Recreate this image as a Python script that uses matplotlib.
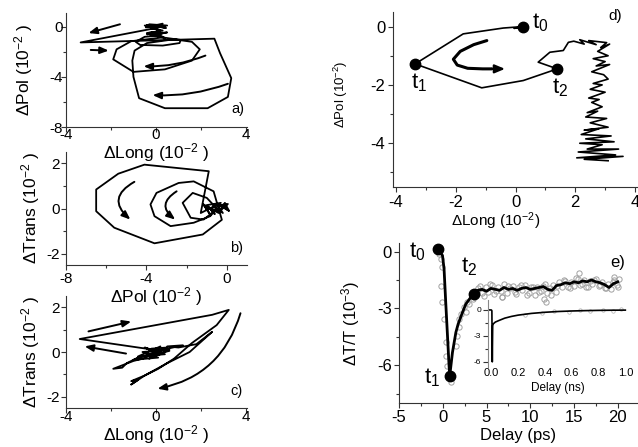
import matplotlib
matplotlib.use("Agg")
import matplotlib.pyplot as plt
from matplotlib.ticker import MultipleLocator, FormatStrFormatter

plt.rcParams["font.family"] = ["Liberation Sans", "DejaVu Sans"]
plt.rcParams["mathtext.default"] = "regular"
plt.rcParams["axes.unicode_minus"] = False

# -------------------------
# a) dLong vs dPol
# -------------------------
a_long = [0.1, -0.4, 0.45, -0.3, 0.5, -0.45, 0.3, -0.2, 0.4, -0.5, 0.2, -0.35, 0.5, -0.1, 0.35, -0.4, 0.15, 0.0,
          -3.35, 2.6, 2.85, 3.35, 3.2, 2.3, 0.4, -0.75, -1.0, -1.05, -0.95, -0.4,
          0.8, 1.6, 1.95, 1.6, 0.4, -1.0, -1.9, -1.75, -1.1, 0.3, 1.1, 1.05, 0.3, -0.7, -0.9, -0.5,
          0.2, 0.4, -0.3, 0.1, -0.4, 0.3, -0.2, 0.1]
a_pol = [0.0, 0.15, -0.1, 0.2, 0.1, -0.05, 0.25, -0.15, 0.05, 0.1, -0.3, -0.55, -0.45, -0.65, -0.5, -0.6, -0.4, -0.1,
         -1.25, -0.95, -2.1, -4.1, -5.6, -6.5, -6.5, -5.7, -4.0, -2.7, -1.9, -1.3,
         -1.0, -1.2, -1.8, -2.7, -3.4, -3.6, -2.6, -1.8, -1.15, -0.85, -1.05, -1.3, -1.5, -1.45, -1.2, -0.8,
         -0.7, -0.9, -0.6, -0.4, -0.5, -0.3, -0.1, 0.0]
# arrows: (x_start, y_start, x_end, y_end, curvature)
a_arrows = [(-1.6, 0.2, -3.0, -0.5, 0.0),
            (-2.9, -1.85, -2.1, -1.9, 0.0),
            (2.2, -2.3, -0.55, -3.15, -0.1),
            (3.2, -4.55, -0.15, -5.45, -0.1)]

# -------------------------
# b) dPol vs dTrans
# -------------------------
b_pol = [0.0, -0.3, 0.1, -0.5, -0.2, -0.7, 0.05, -0.4, -0.9, -0.6, -1.0, -0.3, -1.3,
         -0.9, -4.1, -5.4, -6.5, -6.5, -5.6, -3.6, -1.2, -0.25,
         -0.66, -1.65, -2.4, -3.5, -3.8, -3.6, -2.8, -1.65, -0.83, -0.5,
         -1.0, -1.7, -2.2, -1.8, -1.16, -0.6, -1.2, -0.8, -1.1, -0.4, -0.1, 0.1, -0.2, 0.0]
b_trans = [0.0, 0.15, -0.1, 0.2, -0.2, 0.1, 0.2, -0.15, 0.05, -0.25, 0.15, 0.25, -0.2,
           1.65, 1.94, 1.54, 0.84, -0.12, -0.85, -1.54, -1.15, -0.5,
           0.76, 1.2, 1.13, 0.69, 0.18, -0.34, -0.78, -0.63, -0.34, 0.0,
           0.47, 0.69, 0.25, -0.41, -0.49, -0.1, 0.2, -0.3, 0.1, -0.2, 0.25, -0.1, 0.15, 0.0]
b_arrows = [(-4.6, 1.18, -4.8, -0.49, 0.7),
            (-2.5, 0.76, -2.57, -0.49, 0.7)]

# -------------------------
# c) dLong vs dTrans
# -------------------------
c_long = [0.0, -0.5, 0.4, -0.8, 0.2, -0.3, 0.6, -0.6, 0.1, -1.0, 0.5, -0.2, -0.1,
          -3.39, 2.5, 3.24, 2.7, 1.6, 0.8, 0.1, -0.5, -1.1, -0.8, -1.1, -0.5, 0.5, 1.5, 2.5, 1.8, 1.0, 0.5, 1.2, 0.3,
          -0.6, -1.0, -1.9, -1.5, -1.3, -0.7, 0.2, -0.4, 0.6, -0.2, 0.3, 0.0]
c_trans = [0.0, 0.2, -0.1, -0.2, 0.25, -0.3, 0.1, 0.0, -0.25, -0.35, 0.2, 0.15, 0.1,
           0.58, 1.66, 1.88, 1.2, 0.4, -0.3, -0.75, -1.05, -1.45, -1.25, -1.3, -1.05, -0.5, 0.0, 0.9, 0.35, 0.2, 0.25, 0.3, 0.1,
           -0.3, -0.4, -0.75, -0.7, -0.5, -0.2, -0.1, 0.15, 0.05, -0.15, 0.1, 0.0]
c_arrows = [(-3.0, 0.92, -1.1, 1.36, 0.0),
            (-1.33, -0.07, -3.17, 0.25, 0.0),
            (3.76, 1.73, 0.07, -1.64, -0.3)]

# -------------------------
# d) dLong vs dPol, longer delays
# -------------------------
d_long_path = [0.35, 0.1, 0.3, -0.05, 0.24, -0.41, -1.75, -3.36, -1.13, 0.26, 1.4, 0.76, 1.15, 1.6, 1.77]
d_pol_path = [0.02, -0.04, -0.02, -0.06, 0.0, -0.05, -0.25, -1.28, -2.1, -1.85, -1.45, -1.22, -0.88, -0.82, -0.54]
d_long_noise = [1.95, 2.3, 2.15, 2.7, 2.45, 3.05, 2.85, 3.15, 2.75, 3.1, 2.6, 3.0, 2.7, 3.15, 2.55, 2.95,
                3.1, 2.6, 2.9, 2.5, 3.0, 2.45, 2.8, 2.55, 2.9, 2.4, 2.75, 2.35, 3.05, 2.5, 3.1, 2.3, 2.8,
                2.2, 3.2, 2.35, 3.3, 2.15, 2.9, 2.4, 3.45, 2.1, 3.35, 2.05, 3.6, 2.3, 3.1]
d_pol_noise = [-0.5, -0.6, -0.45, -0.62, -0.48, -0.55, -0.72, -0.6, -0.85, -1.0, -1.1, -1.2, -1.35, -1.3, -1.55, -1.65,
               -1.8, -1.95, -2.0, -2.15, -2.25, -2.45, -2.5, -2.6, -2.75, -2.95, -2.9, -3.1, -3.15, -3.3, -3.45, -3.55, -3.5,
               -3.7, -3.75, -3.85, -3.95, -4.0, -4.05, -4.2, -4.2, -4.3, -4.4, -4.5, -4.45, -4.55, -4.6]
d_mark_long = [0.24, -3.36, 1.4]
d_mark_pol = [0.0, -1.28, -1.45]
d_mark_text = [(0.55, -0.07, "t$_0$"), (-3.5, -2.13, "t$_1$"), (1.22, -2.3, "t$_2$")]
d_turn_long = [-0.96, -1.4, -1.85, -2.08, -1.95, -1.6, -1.1, -0.8]
d_turn_pol = [-0.48, -0.62, -0.85, -1.12, -1.32, -1.43, -1.45, -1.45]
d_turn_tip = (-0.35, -1.45)

# -------------------------
# e) transmission transient
# -------------------------
e_delay = [-0.6, -0.03, 0.15, 0.34, 0.54, 0.72, 0.8, 1.11, 1.5, 1.76, 2.26, 2.64, 3.2, 3.6,
           4.0, 4.5, 5.0, 5.5, 6.0, 6.5, 7.0, 7.5, 8.0, 8.5, 9.0, 9.5, 10.0, 10.5, 11.0, 11.5, 12.0,
           12.5, 13.0, 13.5, 14.0, 14.5, 15.0, 15.5, 16.0, 16.5, 17.0, 17.5, 18.0, 18.5, 19.0, 19.5, 20.0]
e_dtt = [0.14, -0.21, -0.92, -2.68, -4.44, -6.03, -6.56, -5.33, -4.27, -3.83, -3.21, -2.77, -2.42, -2.24,
         -2.05, -2.0, -2.1, -1.95, -2.0, -2.05, -1.9, -2.0, -1.95, -2.05, -1.95, -1.9, -2.0, -1.95, -1.9, -1.85, -2.0,
         -2.05, -1.8, -1.75, -1.65, -1.7, -1.6, -1.65, -1.55, -1.6, -1.5, -1.6, -1.65, -1.75, -1.9, -1.7, -1.6]
e_raw_t = [-0.42, -0.23, -0.04, -0.23, -0.04, 0.15, 0.34, 0.34, 0.54, 0.91, 1.1, 1.49, 1.68, 1.87, 1.87, 2.06,
           2.43, 2.63, 2.82, 3.0, 3.4, 3.58,
           3.8, 4.2, 4.5, 4.9, 5.2, 5.6, 5.9, 6.3, 6.6, 7.0, 7.3, 7.7, 8.0, 8.4, 8.7, 9.1, 9.4, 9.8, 10.1,
           10.5, 10.8, 11.2, 11.5, 11.9, 12.2, 12.6, 12.9, 13.3, 13.6, 14.0, 14.3, 14.7, 15.0, 15.4, 15.7,
           16.1, 16.4, 16.8, 17.1, 17.5, 17.8, 18.2, 18.5, 18.9, 19.2, 19.6, 19.9, 20.1,
           4.0, 4.7, 5.4, 6.1, 6.8, 7.5, 8.2, 8.9, 9.6, 10.3, 11.0, 11.7, 12.4, 13.1, 13.8, 14.5, 15.2,
           15.9, 16.6, 17.3, 18.0, 18.7, 19.4, 20.0,
           6.8, 11.6, 11.8, 15.6, 19.6]
e_raw_dtt = [-0.12, -0.39, -0.83, -1.8, -2.68, -3.56, -4.8, -5.5, -6.03, -6.9, -6.6, -4.97, -4.44, -4.0, -3.56, -3.3,
             -2.95, -3.21, -2.68, -2.77, -2.5, -2.42,
             -2.3, -1.8, -2.2, -1.85, -2.15, -1.75, -2.25, -1.9, -2.1, -1.7, -2.2, -1.95, -1.8, -2.25, -1.9, -2.05,
             -1.75, -2.2, -1.85, -2.3, -1.9, -2.1, -1.8, -2.2, -1.95, -1.75, -2.15, -1.6, -1.9, -1.55, -1.85, -1.6,
             -1.8, -1.45, -1.75, -1.5, -1.85, -1.55, -1.7, -1.45, -1.8, -1.6, -1.95, -1.7, -2.0, -1.5, -1.75, -1.45,
             -1.95, -2.35, -1.7, -2.1, -2.4, -1.8, -2.15, -1.75, -2.3, -1.85, -2.15, -1.7, -2.3, -1.8, -1.5, -1.95,
             -1.4, -1.7, -1.9, -1.5, -1.75, -1.95, -1.6, -1.85,
             -2.42, -2.5, -2.68, -1.15, -1.36]
e_mark_t = [-0.6, 0.8, 3.6]
e_mark_dtt = [0.14, -6.56, -2.24]
e_mark_text = [(-3.9, -0.3, "t$_0$"), (-2.1, -6.98, "t$_1$"), (2.1, -1.1, "t$_2$")]

# inset, long delays (ns)
ins_t = [-0.02, 0.0, 0.004, 0.007, 0.01, 0.015, 0.03, 0.06, 0.1, 0.15, 0.2, 0.3, 0.4, 0.5, 0.6, 0.7, 0.8, 0.9, 1.0]
ins_dtt = [0.0, 0.0, -0.1, -6.0, -1.8, -1.6, -1.4, -1.2, -0.95, -0.75, -0.6, -0.4, -0.27, -0.18, -0.12, -0.08,
           -0.05, -0.03, -0.02]
ins_raw_t = [0.25, 0.38, 0.47, 0.58, 0.66, 0.74, 0.83, 0.91, 0.97]
ins_raw_dtt = [-0.55, -0.3, -0.15, -0.2, -0.05, -0.1, 0.05, -0.08, 0.1]

# -------------------------
# Figure
# -------------------------
W, H = 638, 447
fig = plt.figure(figsize=(W / 100, H / 100), dpi=100)


def box(left, top, right, bottom):
    return [left / W, 1 - bottom / H, (right - left) / W, (bottom - top) / H]


def new_axes(left, top, right, bottom):
    ax = fig.add_axes(box(left, top, right, bottom))
    ax.patch.set_alpha(0)
    return ax


def style(ax, xmaj, ymaj, xpad, ypad, size):
    for s in ["top", "right"]:
        ax.spines[s].set_visible(False)
    for s in ["left", "bottom"]:
        ax.spines[s].set_color("#333333")
        ax.spines[s].set_linewidth(0.8)
    ax.xaxis.set_major_locator(MultipleLocator(xmaj))
    ax.xaxis.set_minor_locator(MultipleLocator(xmaj / 2))
    ax.yaxis.set_major_locator(MultipleLocator(ymaj))
    ax.yaxis.set_minor_locator(MultipleLocator(ymaj / 2))
    ax.tick_params(which="both", direction="out", color="#333333", width=0.8, labelsize=size)
    ax.tick_params(which="major", length=3.5)
    ax.tick_params(which="minor", length=2)
    ax.tick_params(axis="x", pad=xpad)
    ax.tick_params(axis="y", pad=ypad)


def arrows(ax, lst, lw=1.4):
    for x0, y0, x1, y1, rad in lst:
        ax.annotate("", xy=(x1, y1), xytext=(x0, y0),
                    arrowprops=dict(arrowstyle="-|>,head_length=0.5,head_width=0.2", color="k", lw=lw,
                                    shrinkA=0, shrinkB=0, connectionstyle=f"arc3,rad={rad}"))


lab = 12.5

# a)
ax = new_axes(66, 13, 247, 127)
ax.plot(a_long, a_pol, color="k", lw=1.3)
arrows(ax, a_arrows)
ax.set_xlim(-4, 4.05)
ax.set_ylim(-8, 1.1)
style(ax, 4, 4, -3, -1, 11)
ax.set_xlabel("ΔLong (10$^{-2}$ )", fontsize=lab)
ax.set_ylabel("ΔPol (10$^{-2}$ )", fontsize=lab)
ax.xaxis.set_label_coords(0.5, -0.12)
ax.yaxis.set_label_coords(-0.17, 0.5)
ax.text(0.947, 0.158, "a)", transform=ax.transAxes, ha="center", va="center", fontsize=10.5)

# b)
ax = new_axes(66, 152, 247, 265)
ax.plot(b_pol, b_trans, color="k", lw=1.3)
arrows(ax, b_arrows)
ax.set_xlim(-8, 1)
ax.set_ylim(-2.5, 2.5)
style(ax, 4, 2, 1.5, 0.8, 11)
ax.set_xlabel("ΔPol (10$^{-2}$ )", fontsize=lab)
ax.set_ylabel("ΔTrans (10$^{-2}$ )", fontsize=lab)
ax.xaxis.set_label_coords(0.5, -0.18)
ax.yaxis.set_label_coords(-0.13, 0.5)
ax.text(0.942, 0.15, "b)", transform=ax.transAxes, ha="center", va="center", fontsize=10.5)

# c)
ax = new_axes(66, 296, 247, 408)
ax.plot(c_long, c_trans, color="k", lw=1.3)
arrows(ax, c_arrows)
ax.set_xlim(-4, 4.05)
ax.set_ylim(-2.5, 2.5)
style(ax, 4, 2, -2, 0.8, 11)
ax.set_xlabel("ΔLong (10$^{-2}$ )", fontsize=lab)
ax.set_ylabel("ΔTrans (10$^{-2}$ )", fontsize=lab)
ax.xaxis.set_label_coords(0.5, -0.135)
ax.yaxis.set_label_coords(-0.13, 0.5)
ax.text(0.942, 0.152, "c)", transform=ax.transAxes, ha="center", va="center", fontsize=10.5)

# d)
ax = new_axes(393, 12, 638, 187)
ax.plot(d_long_path + d_long_noise, d_pol_path + d_pol_noise, color="k", lw=1.2)
ax.plot(d_mark_long, d_mark_pol, "o", color="k", ms=7.5)
for x, y, s in d_mark_text:
    ax.text(x, y, s, fontsize=16, ha="left", va="baseline")
ax.plot(d_turn_long, d_turn_pol, color="k", lw=2.2, solid_capstyle="round")
ax.annotate("", xy=d_turn_tip, xytext=(d_turn_long[-1], d_turn_pol[-1]),
            arrowprops=dict(arrowstyle="-|>,head_length=0.6,head_width=0.25", color="k", lw=1.6,
                            shrinkA=0, shrinkB=0))
ax.set_xlim(-4.1, 4.1)
ax.set_ylim(-5.5, 0.5)
style(ax, 2, 2, 2.2, 2, 12)
ax.set_xlabel("ΔLong (10$^{-2}$)", fontsize=11)
ax.set_ylabel("ΔPol (10$^{-2}$)", fontsize=9.5)
ax.xaxis.set_label_coords(0.42, -0.135)
ax.yaxis.set_label_coords(-0.176, 0.53)
ax.text(0.906, 0.975, "d)", transform=ax.transAxes, ha="center", va="center", fontsize=11)

# e)
ax = new_axes(399, 243, 637, 403)
ax.plot(e_raw_t, e_raw_dtt, "o", mfc="none", mec="#a0a0a0", ms=3.8, mew=0.7)
ax.plot(e_delay, e_dtt, color="k", lw=2.0)
ax.plot(e_mark_t, e_mark_dtt, "o", color="k", ms=7.5)
for x, y, s in e_mark_text:
    ax.text(x, y, s, fontsize=16, ha="left", va="baseline")
ax.set_xlim(-5, 22.2)
ax.set_ylim(-8, 0.45)
style(ax, 5, 3, 1.5, 1.7, 12)
ax.set_xlabel("Delay (ps)", fontsize=12)
ax.set_ylabel("ΔT/T (10$^{-3}$)", fontsize=12)
ax.xaxis.set_label_coords(0.5, -0.155)
ax.yaxis.set_label_coords(-0.155, 0.5)
ax.text(0.92, 0.875, "e)", transform=ax.transAxes, ha="center", va="center", fontsize=12)

# inset
ax = new_axes(488, 300, 628, 367)
ax.plot(ins_raw_t, ins_raw_dtt, "o", mfc="none", mec="#b0b0b0", ms=2.5, mew=0.5)
ax.plot(ins_t, ins_dtt, color="k", lw=1.2)
ax.set_xlim(-0.025, 1.02)
ax.set_ylim(-6.6, 1.15)
style(ax, 0.2, 3, 0.5, 1.5, 8)
ax.spines["bottom"].set_visible(False)
ax.spines["left"].set_color("#888888")
ax.tick_params(axis="x", which="both", length=0)
ax.tick_params(axis="y", labelsize=6)
ax.xaxis.set_major_formatter(FormatStrFormatter("%.1f"))
ax.set_xlabel("Delay (ns)", fontsize=8.5)
ax.xaxis.set_label_coords(0.5, -0.23)

fig.savefig("out.png", dpi=100)
